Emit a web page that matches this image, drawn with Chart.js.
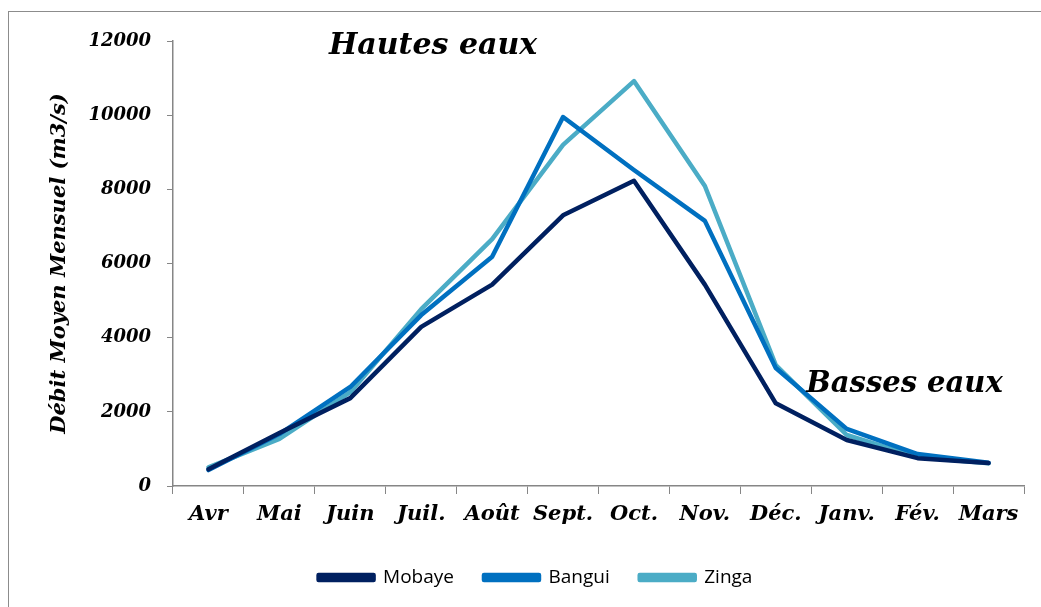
<!DOCTYPE html>
<html>
<head>
<meta charset="utf-8">
<script src="https://cdn.jsdelivr.net/npm/chart.js@4/dist/chart.umd.min.js"></script>
<style>
  html, body { margin: 0; padding: 0; background: #fff; }
  #wrap { position: relative; width: 1041px; height: 607px; }
</style>
</head>
<body>
<div id="wrap"><canvas id="chart" width="1041" height="607"></canvas></div>
<script>
// Débit moyen mensuel - Mobaye, Bangui, Zinga
const months = ["Avr", "Mai", "Juin", "Juil.", "Août", "Sept.", "Oct.", "Nov.", "Déc.", "Janv.", "Fév.", "Mars"];
const mobaye = [450, 1430, 2370, 4290, 5430, 7300, 8230, 5430, 2230, 1240, 750, 620];
const bangui = [430, 1400, 2670, 4610, 6180, 9950, 8520, 7150, 3180, 1540, 860, 630];
const zinga = [500, 1270, 2530, 4770, 6660, 9200, 10920, 8090, 3260, 1375, 780, 610];
const yTicks = [0, 2000, 4000, 6000, 8000, 10000, 12000];

const serif = "'DejaVu Serif', 'Liberation Serif', serif";
const axisGrey = "#868686";

// outer frame + the two text notes
const extras = {
  id: "extras",
  beforeDraw(chart) {
    const ctx = chart.ctx;
    ctx.save();
    ctx.fillStyle = "#fff";
    ctx.fillRect(0, 0, chart.width, chart.height);
    ctx.strokeStyle = "#8c8c8c";
    ctx.lineWidth = 1;
    ctx.strokeRect(8.5, 11.5, chart.width + 20, chart.height + 20);
    ctx.restore();
  },
  afterDraw(chart) {
    const { ctx, scales } = chart;
    ctx.save();
    ctx.fillStyle = "#000";
    ctx.font = "italic bold 30px " + serif;
    ctx.textBaseline = "middle";
    ctx.textAlign = "left";
    ctx.fillText("Hautes eaux", scales.x.getPixelForValue(1.7), scales.y.getPixelForValue(11870));
    ctx.font = "italic bold 29px " + serif;
    ctx.fillText("Basses eaux", scales.x.getPixelForValue(8.43), scales.y.getPixelForValue(2740));
    ctx.restore();
  },
};

const line = (label, data, color) => ({
  label,
  data,
  borderColor: color,
  backgroundColor: color,
  borderWidth: 4.5,
  pointRadius: 0,
  tension: 0,
  borderCapStyle: "round",
  borderJoinStyle: "round",
});

new Chart(document.getElementById("chart"), {
  type: "line",
  data: {
    labels: months,
    datasets: [
      line("Mobaye", mobaye, "#002060"),
      line("Bangui", bangui, "#0070C0"),
      line("Zinga", zinga, "#4BACC6"),
    ],
  },
  options: {
    responsive: false,
    animation: false,
    layout: { padding: { left: 47, right: 17, top: 41, bottom: 10 } },
    scales: {
      x: {
        offset: true,
        grid: { offset: true, drawOnChartArea: false, color: axisGrey, tickLength: 8 },
        border: { color: axisGrey, width: 1.5 },
        ticks: { color: "#000", font: { family: serif, size: 21, style: "italic", weight: "bold" }, padding: 8, maxRotation: 0 },
        afterFit: (s) => { s.height = 52; },
      },
      y: {
        min: 0,
        max: 12000,
        afterBuildTicks: (s) => { s.ticks = yTicks.map((v) => ({ value: v })); },
        grid: { drawOnChartArea: false, color: axisGrey, tickLength: 6 },
        border: { color: axisGrey, width: 1.5 },
        ticks: {
          color: "#000",
          font: { family: serif, size: 18, style: "italic", weight: "bold" },
          padding: 16,
          callback: (v) => String(v),
        },
        title: {
          display: true,
          text: "Débit Moyen Mensuel (m3/s)",
          color: "#000",
          font: { family: serif, size: 21, style: "italic", weight: "bold" },
          padding: { top: 0, bottom: 4 },
        },
        afterFit: (s) => { s.width = 126; },
      },
    },
    plugins: {
      legend: {
        position: "bottom",
        labels: {
          boxWidth: 55,
          boxHeight: 5,
          padding: 30,
          color: "#000",
          font: { family: "'Open Sans', 'Liberation Sans', sans-serif", size: 19 },
        },
      },
      tooltip: { enabled: false },
    },
  },
  plugins: [extras],
});
</script>
</body>
</html>
